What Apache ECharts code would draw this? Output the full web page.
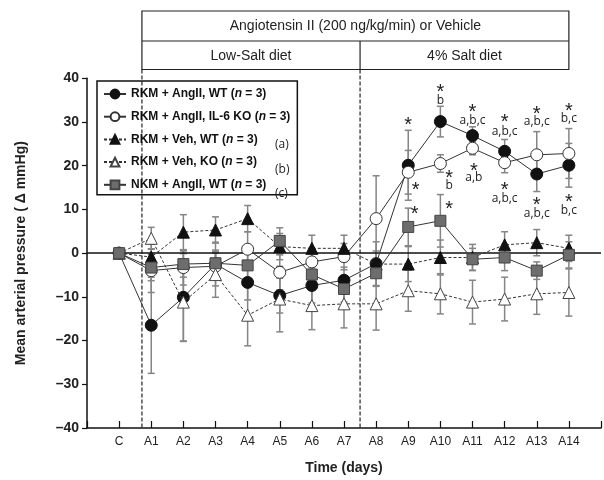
<!DOCTYPE html>
<html>
<head>
<meta charset="utf-8">
<script src="https://cdn.jsdelivr.net/npm/echarts@6/dist/echarts.min.js"></script>
<style>html,body{margin:0;padding:0;background:#fff}#c{width:604px;height:480px}</style>
</head>
<body>
<div id="c"></div>
<script>
// ---- data ----
const categories = ['C','A1','A2','A3','A4','A5','A6','A7','A8','A9','A10','A11','A12','A13','A14'];
const seriesNames = ['RKM + AngII, WT','RKM + AngII, IL-6 KO','RKM + Veh, WT','RKM + Veh, KO','NKM + AngII, WT'];
const wtAng   = [0,-16.5,-10.1,-2.5,-6.7,-9.7,-7.4,-6.2,-2.4,20.1,30.1,26.9,23.3,18.1,20.1];
const wtAngErr= [0,11,10,5,4,4,4,3,5,8,3.5,2,2.7,4,5];
const koAng   = [0,-4.0,-3.3,-3.0,0.9,-4.4,-2.0,-0.8,7.9,18.5,20.5,24.0,20.7,22.5,22.8];
const koAngErr= [0,5,4,3,4,4,3,3,9.8,5,2,1.5,2.3,5.3,5.7];
const wtVeh   = [0,-0.9,4.8,5.3,7.9,1.5,1.1,1.1,-2.5,-2.5,-1.0,-1.0,1.9,2.4,1.1];
const wtVehErr= [0,3,4,3,3,3,3,3,3,4,4,3,3,3,3];
const koVeh   = [0,3.4,-11.2,-4.9,-14.2,-10.5,-12.0,-11.6,-11.6,-8.6,-9.3,-11.2,-10.5,-9.3,-9.0];
const koVehErr= [0,2.5,9,5.2,7,7.5,5.5,5.5,6,4.7,4.6,5,5,4.7,5.4];
const nkmAng  = [0,-3.3,-2.5,-2.3,-2.8,2.8,-4.9,-8.2,-4.6,6.0,7.4,-1.4,-1.0,-4.0,-0.4];
const nkmAngErr=[0,3,3,3,3,3,3,3,3,4.3,6,2.5,3,2,3];
const groupTags = ['', '', '(a)', '(b)', '(c)'];
const yTicks = {min:-40, max:40, interval:10};
const phaseBreaks = [0.71, 7.5];
const headerTop = 'Angiotensin II (200 ng/kg/min) or Vehicle';
const headerCells = ['Low-Salt diet', '4% Salt diet'];
// significance annotations: [x index, y value, text, kind]
const annotations = [
  [9,30.2,'*','s'],
  [10,37.7,'*','s'],[10,34.9,'b','l'],
  [11,33.0,'*','s'],[11,30.4,'a,b,c','l'],
  [12,30.9,'*','s'],[12,27.8,'a,b,c','l'],
  [13,32.7,'*','s'],[13,30.0,'a,b,c','l'],
  [14,33.4,'*','s'],[14,30.8,'b,c','l'],
  [9.23,15.2,'*','s'],
  [10.27,18.1,'*','s'],[10.27,15.5,'b','l'],
  [11.04,19.5,'*','s'],[11.04,17.4,'a,b','l'],
  [12,15.3,'*','s'],[12,12.5,'a,b,c','l'],
  [13,11.9,'*','s'],[13,9.1,'a,b,c','l'],
  [14,12.5,'*','s'],[14,9.7,'b,c','l'],
  [9.2,9.7,'*','s'],
  [10.27,10.8,'*','s']
];

const values = [wtAng, koAng, wtVeh, koVeh, nkmAng];
const errors = [wtAngErr, koAngErr, wtVehErr, koVehErr, nkmAngErr];
const styles = [
  {symbol:'circle', size:12, fill:'#111', stroke:'#111', dash:'solid'},
  {symbol:'circle', size:12, fill:'#fff', stroke:'#333', dash:'solid'},
  {symbol:'triangle', size:12, fill:'#111', stroke:'#111', dash:[3,2]},
  {symbol:'triangle', size:12, fill:'#fff', stroke:'#444', dash:[3,2]},
  {symbol:'rect', size:11, fill:'#6d6d6d', stroke:'#444', dash:'solid'}
];

const errData = [];
values.forEach((arr, s) => arr.forEach((v, i) => {
  if (errors[s][i] > 0) errData.push([i, v - errors[s][i], v + errors[s][i]]);
}));

const chart = echarts.init(document.getElementById('c'), null, {renderer:'canvas'});
const FONT = 'Liberation Sans, Arial, sans-serif';

const lineSeries = values.map((arr, s) => ({
  name: seriesNames[s],
  type: 'line',
  data: arr.map((v, i) => [i, v]),
  symbol: styles[s].symbol,
  symbolSize: styles[s].size,
  z: 5 + s,
  lineStyle: {color:'#333', width:1, type: styles[s].dash},
  itemStyle: {color: styles[s].fill, borderColor: styles[s].stroke, borderWidth: 1},
  emphasis: {disabled:true},
  animation: false
}));

lineSeries[0].markLine = {
  silent: true, symbol: 'none', label: {show:false},
  lineStyle: {color:'#111', width:1.5, type:'solid'},
  data: [{yAxis: 0}]
};

chart.setOption({
  animation: false,
  grid: {left: 87, width: 521.5, top: 78.3, height: 353.4},
  xAxis: {
    type: 'value', min: -1, max: 15, interval: 1,
    name: 'Time (days)', nameLocation: 'middle', nameGap: 33,
    nameTextStyle: {fontFamily: FONT, fontWeight: 'bold', fontSize: 14, color: '#222'},
    axisLine: {onZero: false, lineStyle: {color:'#111', width:1.5}},
    axisTick: {inside: true, length: 7, lineStyle: {color:'#111', width:1.2}},
    axisLabel: {fontFamily: FONT, fontSize: 12, color:'#222', margin: 8,
      formatter: v => (categories[v] !== undefined ? categories[v] : '')},
    splitLine: {show:false}
  },
  yAxis: {
    type: 'value', min: yTicks.min, max: yTicks.max, interval: yTicks.interval,
    name: 'Mean arterial pressure ( Δ mmHg)', nameLocation: 'middle', nameGap: 59,
    nameTextStyle: {fontFamily: FONT, fontWeight: 'bold', fontSize: 14, color: '#222'},
    axisLine: {show: true, onZero: false, lineStyle: {color:'#111', width:1.5}},
    axisTick: {show: true, length: 5, lineStyle: {color:'#111', width:1.2}},
    axisLabel: {fontFamily: FONT, fontWeight:'bold', fontSize: 14, color:'#222', margin: 8,
      formatter: v => v < 0 ? '–' + Math.abs(v) : String(v)},
    splitLine: {show:false}
  },
  legend: {
    data: seriesNames,
    orient: 'vertical', left: 97, top: 81,
    padding: [7, 7, 4, 6],
    itemWidth: 22, itemHeight: 11, itemGap: 10.7,
    borderColor: '#111', borderWidth: 1.5,
    selectedMode: false,
    formatter: name => '{b|' + name + ' (}{i|n}{b| = 3)}',
    textStyle: {
      color:'#111',
      rich: {
        b: {fontFamily: FONT, fontWeight:'bold', fontSize: 12, lineHeight: 14, color:'#111'},
        i: {fontFamily: FONT, fontWeight:'bold', fontStyle:'italic', fontSize: 12, lineHeight: 14, color:'#111'}
      }
    }
  },
  series: [
    {
      type: 'custom',
      data: errData,
      z: 2,
      silent: true,
      renderItem: function (params, api) {
        const x = api.value(0);
        const lo = api.coord([x, api.value(1)]);
        const hi = api.coord([x, api.value(2)]);
        const w = 3.5;
        const st = {stroke:'#858585', lineWidth:1.5};
        return {type:'group', children:[
          {type:'line', shape:{x1:lo[0], y1:lo[1], x2:hi[0], y2:hi[1]}, style: st},
          {type:'line', shape:{x1:lo[0]-w, y1:lo[1], x2:lo[0]+w, y2:lo[1]}, style: st},
          {type:'line', shape:{x1:hi[0]-w, y1:hi[1], x2:hi[0]+w, y2:hi[1]}, style: st}
        ]};
      }
    }
  ].concat(lineSeries)
});

// annotations and header built from axis positions
const px = v => chart.convertToPixel({xAxisIndex:0}, v);
const py = v => chart.convertToPixel({yAxisIndex:0}, v);
const g = [];
const hTop = 11, hMid = 41, hBot = 69.5;
const xL = px(phaseBreaks[0]), xD = px(phaseBreaks[1]), xR = px(14);
const yBottom = py(yTicks.min);
phaseBreaks.forEach(b => {
  g.push({type:'line', silent:true, z:1, shape:{x1:px(b), y1:hBot, x2:px(b), y2:yBottom},
    style:{stroke:'#222', lineWidth:1.2, lineDash:[4,2]}});
});
g.push({type:'rect', silent:true, shape:{x:xL, y:hTop, width:xR-xL, height:hBot-hTop},
  style:{fill:'none', stroke:'#222', lineWidth:1.2}});
g.push({type:'line', silent:true, shape:{x1:xL, y1:hMid, x2:xR, y2:hMid}, style:{stroke:'#222', lineWidth:1.2}});
g.push({type:'line', silent:true, shape:{x1:xD, y1:hMid, x2:xD, y2:hBot}, style:{stroke:'#222', lineWidth:1.2}});
g.push({type:'text', silent:true, x:(xL+xR)/2, y:(hTop+hMid)/2+0.5,
  style:{text:headerTop, fontFamily:FONT, fontSize:14, fill:'#222', align:'center', verticalAlign:'middle'}});
g.push({type:'text', silent:true, x:(xL+xD)/2, y:(hMid+hBot)/2+0.5,
  style:{text:headerCells[0], fontFamily:FONT, fontSize:14, fill:'#222', align:'center', verticalAlign:'middle'}});
g.push({type:'text', silent:true, x:(xD+xR)/2, y:(hMid+hBot)/2+0.5,
  style:{text:headerCells[1], fontFamily:FONT, fontSize:14, fill:'#222', align:'center', verticalAlign:'middle'}});
annotations.forEach(a => {
  const isStar = a[3] === 's';
  g.push({type:'text', silent:true, z:20, x:px(a[0]), y:py(a[1]) + (isStar ? 4 : 0),
    style:{text:a[2], fontFamily: isStar ? FONT : 'Open Sans, Noto Sans, sans-serif',
      fontSize: isStar ? 20 : 12, fill:'#222', align:'center', verticalAlign:'middle'}});
});
groupTags.forEach((t, i) => {
  if (!t) return;
  g.push({type:'text', silent:true, z:20, x:275, y:95 + i*24.7,
    style:{text:t, fontFamily:'Open Sans, Noto Sans, sans-serif', fontSize:12, fill:'#222', align:'left', verticalAlign:'middle'}});
});
chart.setOption({graphic: g});
</script>
</body>
</html>
